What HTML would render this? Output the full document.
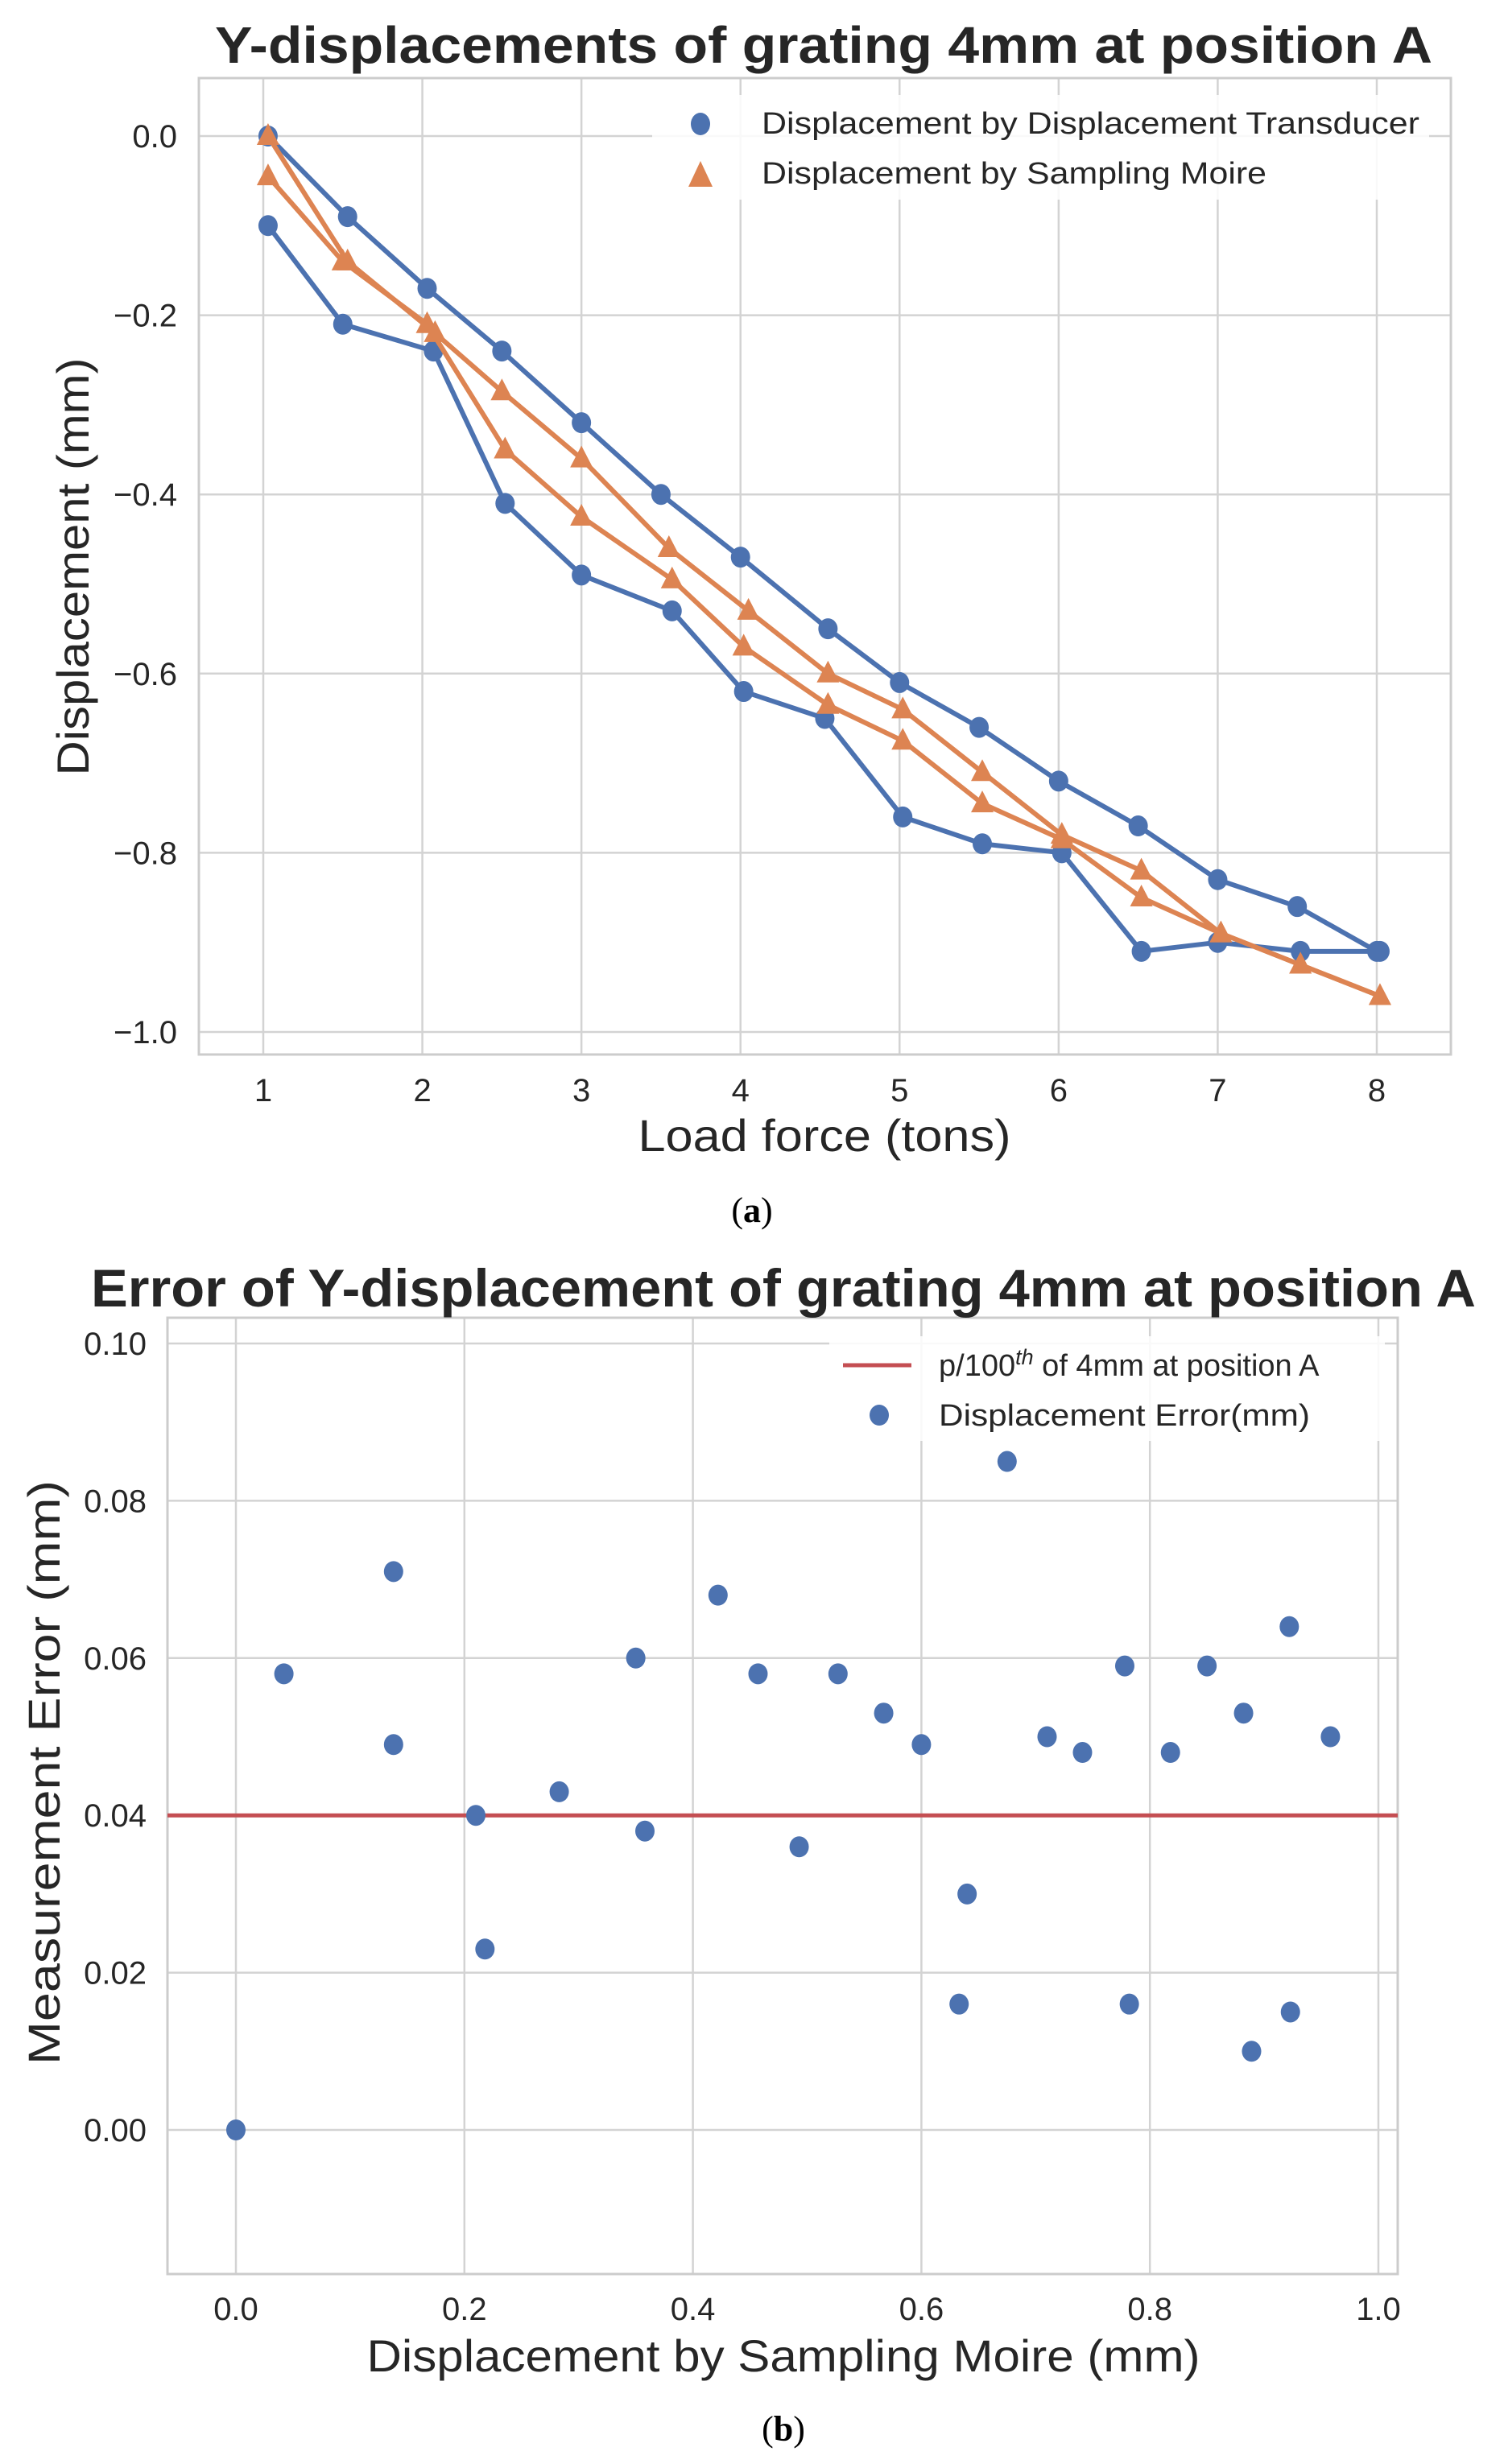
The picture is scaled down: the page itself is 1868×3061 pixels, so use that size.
<!DOCTYPE html>
<html><head><meta charset="utf-8">
<style>
html,body{margin:0;padding:0;background:#fff;}
svg{display:block;font-family:"Liberation Sans",Arial,sans-serif;}
</style></head>
<body>
<svg id="fig" width="1868" height="3061" viewBox="0 0 1868 3061" xmlns="http://www.w3.org/2000/svg">
<rect width="1868" height="3061" fill="#fff"/>
<g id="topChart"></g>
<g id="botChart"></g>
<text x="934" y="1518" font-family="Liberation Serif, serif" font-size="44" text-anchor="middle" fill="#000">(<tspan font-weight="bold">a</tspan>)</text>
<text x="973" y="3032" font-family="Liberation Serif, serif" font-size="44" text-anchor="middle" fill="#000">(<tspan font-weight="bold">b</tspan>)</text>
</svg>
<script>
// ---------- Top chart data ----------
const topXTicks = [1,2,3,4,5,6,7,8];
const topYTicks = [0,-0.2,-0.4,-0.6,-0.8,-1.0];
const topYTickLabels = ["0.0","\u22120.2","\u22120.4","\u22120.6","\u22120.8","\u22121.0"];
const transducerUpperX = [1.03,1.53,2.03,2.5,3.0,3.5,4.0,4.55,5.0,5.5,6.0,6.5,7.0,7.5,8.0];
const transducerUpperY = [0,-0.09,-0.17,-0.24,-0.32,-0.40,-0.47,-0.55,-0.61,-0.66,-0.72,-0.77,-0.83,-0.86,-0.91];
const transducerLowerX = [1.03,1.5,2.07,2.52,3.0,3.57,4.02,4.53,5.02,5.52,6.02,6.52,7.0,7.52,8.02];
const transducerLowerY = [-0.10,-0.21,-0.24,-0.41,-0.49,-0.53,-0.62,-0.65,-0.76,-0.79,-0.80,-0.91,-0.90,-0.91,-0.91];
const moireUpperX = [1.03,1.53,2.08,2.5,3.0,3.55,4.05,4.55,5.02,5.52,6.02,6.52,7.02,7.52,8.02];
const moireUpperY = [0,-0.14,-0.22,-0.285,-0.36,-0.46,-0.53,-0.60,-0.64,-0.71,-0.78,-0.82,-0.89,-0.925,-0.96];
const moireLowerX = [1.03,1.5,2.03,2.52,3.0,3.57,4.02,4.55,5.02,5.52,6.02,6.52,7.02,7.52,8.02];
const moireLowerY = [-0.045,-0.14,-0.21,-0.35,-0.425,-0.495,-0.57,-0.635,-0.675,-0.745,-0.785,-0.85,-0.89,-0.925,-0.96];

// ---------- Bottom chart data ----------
const botXTicks = [0,0.2,0.4,0.6,0.8,1.0];
const botXTickLabels = ["0.0","0.2","0.4","0.6","0.8","1.0"];
const botYTicks = [0,0.02,0.04,0.06,0.08,0.10];
const botYTickLabels = ["0.00","0.02","0.04","0.06","0.08","0.10"];
const errorX = [0,0.042,0.138,0.138,0.21,0.218,0.283,0.35,0.358,0.422,0.457,0.493,0.527,0.567,0.60,0.633,0.64,0.675,0.71,0.741,0.778,0.782,0.818,0.85,0.882,0.889,0.922,0.923,0.958];
const errorY = [0,0.058,0.071,0.049,0.040,0.023,0.043,0.060,0.038,0.068,0.058,0.036,0.058,0.053,0.049,0.016,0.030,0.085,0.050,0.048,0.059,0.016,0.048,0.059,0.053,0.010,0.064,0.015,0.050];
const thresholdValue = [0.04];

const NS = "http://www.w3.org/2000/svg";
function mk(parent, tag, attrs, text){
  const e = document.createElementNS(NS, tag);
  for (const k in attrs) e.setAttribute(k, attrs[k]);
  if (text !== undefined) e.textContent = text;
  parent.appendChild(e);
  return e;
}
const BLUE="#4c72b0", ORANGE="#dd8452", RED="#c44e52", GRID="#d3d3d3";

// ================= TOP CHART =================
(function(){
  const g = document.getElementById('topChart');
  const L=247,R=1802,T=97,B=1310;
  const sx = v => 327 + (v-1)*(1710-327)/7;
  const sy = v => 169 + (0-v)*(1282-169)/1;
  topXTicks.forEach(v=>{
    const l = mk(g,'line',{x1:sx(v),x2:sx(v),y1:T,y2:B,stroke:GRID,'stroke-width':2.5});
    
    
    const t = mk(g,'text',{x:sx(v),y:1368,'font-size':40,'text-anchor':'middle',fill:'#262626'},String(v));
    
    
  });
  topYTicks.forEach((v,i)=>{
    const l = mk(g,'line',{x1:L,x2:R,y1:sy(v),y2:sy(v),stroke:GRID,'stroke-width':2.5});
    
    
    const t = mk(g,'text',{x:220,y:sy(v)+14,'font-size':40,'text-anchor':'end',fill:'#262626'},topYTickLabels[i]);
    
    
  });
  const fr = mk(g,'rect',{x:L,y:T,width:R-L,height:B-T,fill:'none',stroke:'#cccccc','stroke-width':3});
  
  

  function series(xs, ys, color, marker, name){
    const pts = xs.map((x,i)=>sx(x)+','+sy(ys[i])).join(' ');
    const pl = mk(g,'polyline',{points:pts,fill:'none',stroke:color,'stroke-width':6,'stroke-linejoin':'round'});
    
    
    xs.forEach((x,i)=>{
      const cx=sx(x), cy=sy(ys[i]);
      let m;
      if(marker==='o'){
        m = mk(g,'ellipse',{cx:cx,cy:cy,rx:12,ry:13,fill:color});
      } else {
        m = mk(g,'polygon',{points:`${cx},${cy-16} ${cx-14},${cy+11} ${cx+14},${cy+11}`,fill:color});
      }
      
      
    });
  }
  series(transducerUpperX,transducerUpperY,BLUE,'o','transducer-upper');
  series(transducerLowerX,transducerLowerY,BLUE,'o','transducer-lower');
  series(moireUpperX,moireUpperY,ORANGE,'^','moire-upper');
  series(moireLowerX,moireLowerY,ORANGE,'^','moire-lower');

  const lg = mk(g,'g',{});
  
  
  mk(lg,'rect',{x:810,y:118,width:965,height:130,fill:'#fff','fill-opacity':0.85});
  const m1 = mk(lg,'ellipse',{cx:870,cy:154,rx:12,ry:14,fill:BLUE});
  
  
  const t1 = mk(lg,'text',{x:946,y:166,'font-size':38,fill:'#262626',textLength:817,lengthAdjust:'spacingAndGlyphs'},'Displacement by Displacement Transducer');
  
  
  const m2 = mk(lg,'polygon',{points:'870,200 855,232 885,232',fill:ORANGE});
  
  
  const t2 = mk(lg,'text',{x:946,y:228,'font-size':38,fill:'#262626',textLength:627,lengthAdjust:'spacingAndGlyphs'},'Displacement by Sampling Moire');
  
  

  const title = mk(g,'text',{x:1023,y:78,'font-size':64,'font-weight':'bold','text-anchor':'middle',fill:'#262626',textLength:1512,lengthAdjust:'spacingAndGlyphs'},'Y-displacements of grating 4mm at position A');
  
  
  const xl = mk(g,'text',{x:1024,y:1430,'font-size':56,'text-anchor':'middle',fill:'#262626',textLength:463,lengthAdjust:'spacingAndGlyphs'},'Load force (tons)');
  
  
  const yl = mk(g,'text',{x:0,y:0,'font-size':56,'text-anchor':'middle',fill:'#262626',textLength:519,lengthAdjust:'spacingAndGlyphs',transform:'translate(110,704) rotate(-90)'},'Displacement (mm)');
  
  
})();

// ================= BOTTOM CHART =================
(function(){
  const g = document.getElementById('botChart');
  const L=208,R=1736,T=1637,B=2825;
  const sx = v => 293 + v*(1712-293);
  const sy = v => 2646 - v*(2646-1669)/0.10;
  botXTicks.forEach((v,i)=>{
    const l = mk(g,'line',{x1:sx(v),x2:sx(v),y1:T,y2:B,stroke:GRID,'stroke-width':2.5});
    
    
    const t = mk(g,'text',{x:sx(v),y:2882,'font-size':40,'text-anchor':'middle',fill:'#262626'},botXTickLabels[i]);
    
    
  });
  botYTicks.forEach((v,i)=>{
    const l = mk(g,'line',{x1:L,x2:R,y1:sy(v),y2:sy(v),stroke:GRID,'stroke-width':2.5});
    
    
    const t = mk(g,'text',{x:182,y:sy(v)+14,'font-size':40,'text-anchor':'end',fill:'#262626'},botYTickLabels[i]);
    
    
  });
  const fr = mk(g,'rect',{x:L,y:T,width:R-L,height:B-T,fill:'none',stroke:'#cccccc','stroke-width':3});
  
  

  const th = mk(g,'line',{x1:L,x2:R,y1:sy(thresholdValue[0]),y2:sy(thresholdValue[0]),stroke:RED,'stroke-width':5});
  
  

  errorX.forEach((x,i)=>{
    const c = mk(g,'ellipse',{cx:sx(x),cy:sy(errorY[i]),rx:12,ry:13,fill:BLUE});
    
    
  });

  const lg = mk(g,'g',{});
  
  
  mk(lg,'rect',{x:1030,y:1660,width:690,height:130,fill:'#fff','fill-opacity':0.85});
  const ln = mk(lg,'line',{x1:1047,x2:1132,y1:1696,y2:1696,stroke:RED,'stroke-width':5});
  
  
  const t1 = mk(lg,'text',{x:1166,y:1709,'font-size':38,fill:'#262626'});
  
  
  t1.innerHTML = 'p/100<tspan dy="-14" font-size="27" font-style="italic">th</tspan><tspan dy="14"> of 4mm at position A</tspan>';
  const m = mk(lg,'ellipse',{cx:1092,cy:1758,rx:12,ry:13,fill:BLUE});
  
  
  const t2 = mk(lg,'text',{x:1166,y:1771,'font-size':38,fill:'#262626',textLength:461,lengthAdjust:'spacingAndGlyphs'},'Displacement Error(mm)');
  
  

  const title = mk(g,'text',{x:973,y:1623,'font-size':66,'font-weight':'bold','text-anchor':'middle',fill:'#262626',textLength:1720,lengthAdjust:'spacingAndGlyphs'},'Error of Y-displacement of grating 4mm at position A');
  
  
  const xl = mk(g,'text',{x:973,y:2946,'font-size':56,'text-anchor':'middle',fill:'#262626',textLength:1035,lengthAdjust:'spacingAndGlyphs'},'Displacement by Sampling Moire (mm)');
  
  
  const yl = mk(g,'text',{x:0,y:0,'font-size':56,'text-anchor':'middle',fill:'#262626',textLength:726,lengthAdjust:'spacingAndGlyphs',transform:'translate(74,2202) rotate(-90)'},'Measurement Error (mm)');
  
  
})();
</script>
</body></html>
